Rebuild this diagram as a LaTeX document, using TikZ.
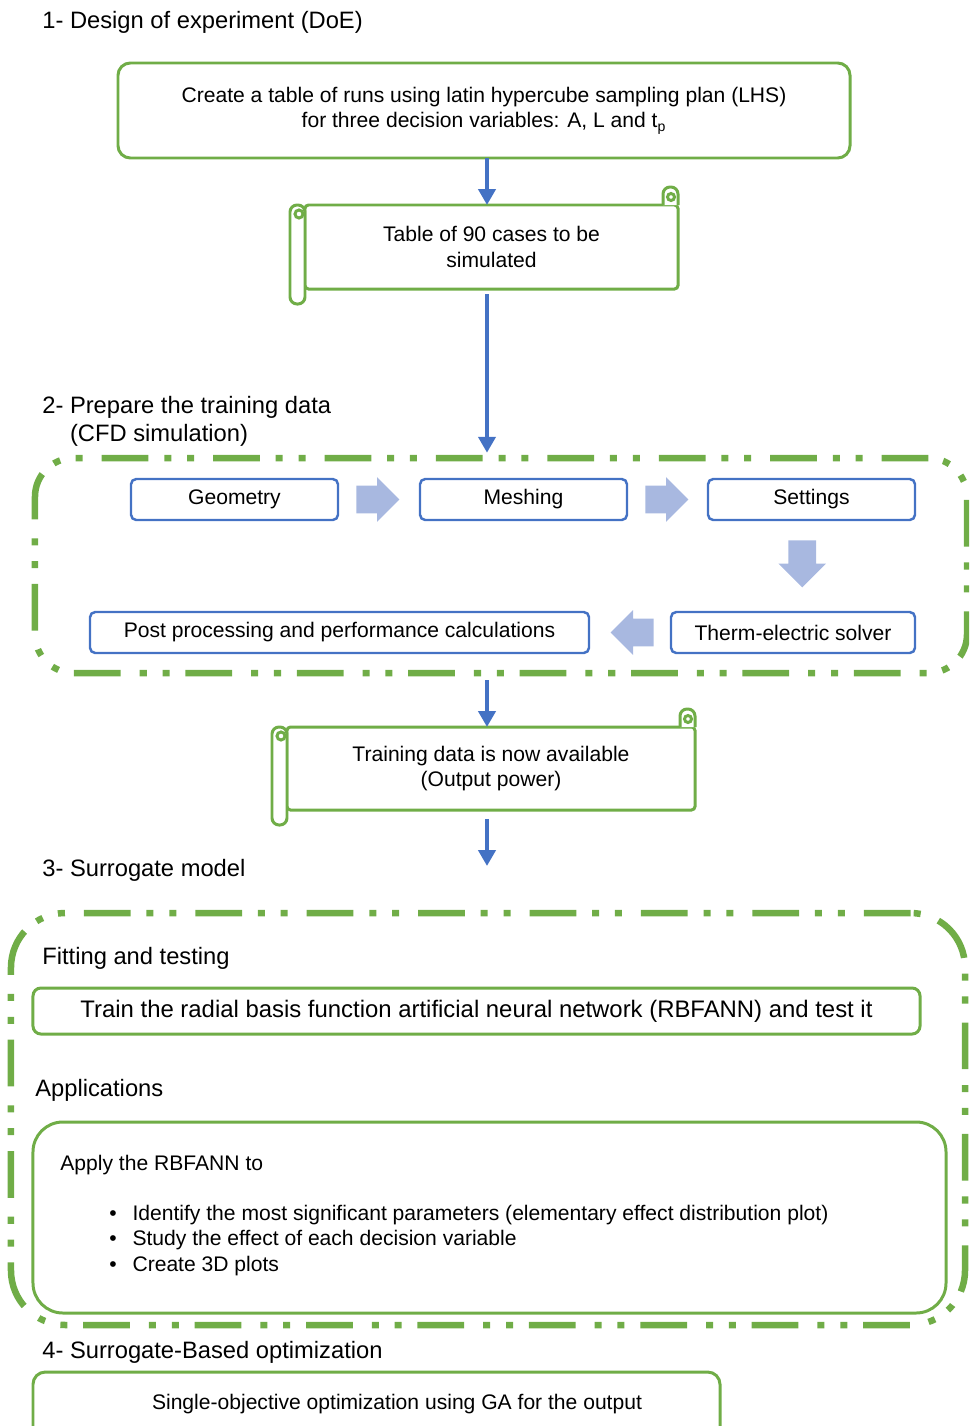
\documentclass[tikz,border=0pt]{standalone}
\usepackage{fontspec}
\setmainfont{Liberation Sans}
\usetikzlibrary{arrows.meta,calc,shapes.arrows}
\definecolor{boxgreen}{RGB}{112,173,71}
\definecolor{boxblue}{RGB}{68,114,196}
\definecolor{paleblue}{RGB}{168,184,224}
\begin{document}
\begin{tikzpicture}[x=0.2mm,y=-0.2mm]
	\tikzstyle{heading}=[anchor=base west,inner sep=0,font=\fontsize{13.5}{16}\selectfont,align=left]
	\tikzstyle{boxtext}=[font=\fontsize{12}{14.6}\selectfont,align=center]
	\tikzstyle{greenbox}=[boxtext,draw=boxgreen,line width=1.7pt,rounded corners=7pt,inner sep=0,outer sep=0]
	\tikzstyle{bluebox}=[boxtext,draw=boxblue,line width=1.4pt,rounded corners=3pt,inner sep=0,outer sep=0,minimum height=8.2mm]
	\tikzstyle{scrollline}=[draw=boxgreen,line width=1.7pt]
	\tikzstyle{frame}=[draw=boxgreen,line width=3.7pt,inner sep=0,outer sep=0,dash pattern=on 26.6pt off 10.8pt on 4pt off 9pt on 4pt off 9pt]
	\tikzstyle{flow}=[draw=boxblue,line width=2.8pt,-{Triangle[length=9pt,width=9.6pt]}]
	\tikzstyle{blockarrow}=[single arrow,fill=paleblue,draw=none,minimum height=8.6mm,inner xsep=0,inner ysep=2.7mm,single arrow head extend=1.7mm,anchor=tail]
	\tikzstyle{blockdown}=[blockarrow,shape border rotate=270,minimum height=9.4mm,inner xsep=2.7mm,inner ysep=0,single arrow head extend=2mm]
	\useasboundingbox (0,0) rectangle (969,1426);
	\clip (0,0) rectangle (969,1426);
	\begin{scope}
		\node[heading] (h1) at (42,28.5) {1- Design of experiment (DoE)};
		\node[greenbox,minimum width=146.4mm,minimum height=19mm] (doe) at (484,110.5) {Create a table of runs using latin hypercube sampling plan (LHS)\\for three decision variables: A, L and t\textsubscript{p}};
		\node[greenbox,rounded corners=2pt,minimum width=74.6mm,minimum height=16.8mm] (tbl) at (491.5,247) {Table of 90 cases to be\\simulated};
		\node[greenbox,rounded corners=2pt,minimum width=81.6mm,minimum height=16.6mm] (avail) at (491,768.5) {Training data is now available\\(Output power)};
		\foreach \s in {tbl,avail} {
			\draw[scrollline,fill=white,rounded corners=4pt] ($(\s.north west)+(-15,0)$) rectangle ($(\s.south west)+(0,15)$);
			\draw[scrollline] ($(\s.north west)+(-6,9)$) circle[radius=4];
			\draw[scrollline,fill=white,rounded corners=4pt] ($(\s.north east)+(-15,0)$) -- ++(0,-18) -- ++(15,0) -- (\s.north east);
			\draw[scrollline] ($(\s.north east)+(-7,-8)$) circle[radius=3.5];
		}
	\end{scope}
	\begin{scope}
		\node[heading] (h2) at (42,441.5) {2- Prepare the training data\\\phantom{2- }(CFD simulation)};
		\node[frame,rounded corners=22pt,minimum width=186.4mm,minimum height=43mm] (cfd) at (501,565.5) {};
		\node[bluebox,minimum width=41.4mm] (geo) at (234.5,499.5) {Geometry};
		\node[bluebox,minimum width=41.4mm] (mesh) at (523.5,499.5) {Meshing};
		\node[bluebox,minimum width=41.4mm] (set) at (811.5,499.5) {Settings};
		\node[bluebox,minimum width=48.8mm] (solv) at (793,632.5) {Therm-electric solver};
		\node[bluebox,minimum width=99.8mm] (post) at (339.5,632.5) {Post processing and performance calculations};
		\node[blockarrow] (a1) at ($(geo.east)+(18,0)$) {};
		\node[blockarrow] (a2) at ($(mesh.east)+(18,0)$) {};
		\node[blockdown] (a3) at ($(set.south)!0.5!(solv.north)+(0,-26)$) {};
		\node[blockarrow,shape border rotate=180] (a4) at ($(solv.west)+(-17,0)$) {};
	\end{scope}
	\begin{scope}
		\node[heading] (h3) at (42,876.5) {3- Surrogate model};
		\node[frame,rounded corners=31pt,minimum width=190.8mm,minimum height=82.4mm] (surr) at (488,1119) {};
		\node[heading] (fithd) at (42,964.5) {Fitting and testing};
		\node[greenbox,rounded corners=4.5pt,minimum width=177.4mm,minimum height=9.2mm,font=\fontsize{13.6}{16}\selectfont] (train) at (476.5,1011) {Train the radial basis function artificial neural network (RBFANN) and test it};
		\node[heading] (apphd) at (35,1096) {Applications};
		\node[greenbox,rounded corners=17pt,minimum width=182.6mm,minimum height=38.2mm] (apps) at (489.5,1217.5) {};
		\node[boxtext,anchor=base west,inner sep=0] (appl) at (60,1170.5) {Apply the RBFANN to};
		\node[boxtext,anchor=base west,inner sep=0,align=left] (bul) at (109,1271.5) {\textbullet\hspace{9pt}Identify the most significant parameters (elementary effect distribution plot)\\\textbullet\hspace{9pt}Study the effect of each decision variable\\\textbullet\hspace{9pt}Create 3D plots};
	\end{scope}
	\begin{scope}
		\node[heading] (h4) at (42,1358) {4- Surrogate-Based optimization};
		\node[greenbox,minimum width=137.4mm,minimum height=17.6mm] (opt) at (376.5,1416) {};
		\node[boxtext] (optxt) at (397,1404) {Single-objective optimization using GA for the output};
	\end{scope}
	\coordinate (spine) at (487,0);
	\coordinate (next) at (487,866);
	\draw[flow] (doe.south -| spine) -- (tbl.north -| spine);
	\draw[flow,shorten <=3pt,shorten >=3pt] (tbl.south -| spine) -- (cfd.north -| spine);
	\draw[flow,shorten <=4pt] (cfd.south -| spine) -- (avail.north -| spine);
	\draw[flow,shorten <=5pt] (avail.south -| spine) -- (next);
\end{tikzpicture}
\end{document}
